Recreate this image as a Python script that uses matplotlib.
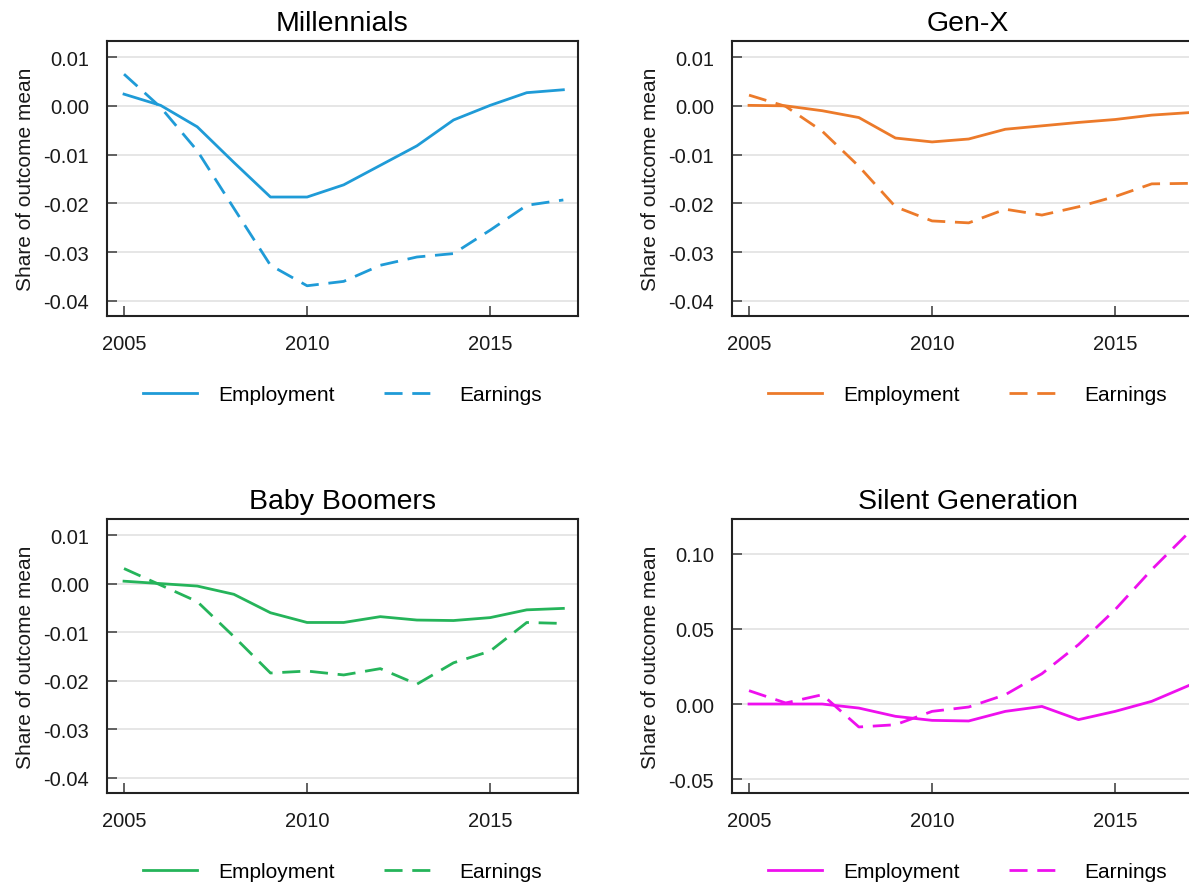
import matplotlib.pyplot as plt
import matplotlib.transforms as mtransforms

plt.rcParams['font.family'] = ['Liberation Sans', 'DejaVu Sans']

years = list(range(2005, 2018))

mill_emp = [0.0024, 0.0001, -0.0043, -0.0116, -0.0187, -0.0187, -0.0162,
            -0.0122, -0.0082, -0.0029, 0.0001, 0.0027, 0.0033]
mill_earn = [0.0065, -0.0003, -0.0092, -0.0210, -0.0327, -0.0369, -0.0360,
             -0.0327, -0.0310, -0.0303, -0.0255, -0.0204, -0.0193]

genx_emp = [0.0001, 0.0000, -0.0010, -0.0024, -0.0066, -0.0074, -0.0068,
            -0.0048, -0.0041, -0.0034, -0.0028, -0.0019, -0.0014]
genx_earn = [0.0022, -0.0001, -0.0052, -0.0124, -0.0207, -0.0236, -0.0240,
             -0.0212, -0.0224, -0.0207, -0.0186, -0.0160, -0.0159]

boom_emp = [0.0005, 0.0000, -0.0005, -0.0022, -0.0060, -0.0080, -0.0080,
            -0.0068, -0.0075, -0.0076, -0.0070, -0.0054, -0.0051]
boom_earn = [0.0031, -0.0003, -0.0037, -0.0109, -0.0184, -0.0180, -0.0188,
             -0.0175, -0.0207, -0.0163, -0.0139, -0.0080, -0.0082]

silent_emp = [0.0000, 0.0000, 0.0000, -0.0027, -0.0082, -0.0109, -0.0113,
              -0.0049, -0.0016, -0.0104, -0.0049, 0.0018, 0.0122]
silent_earn = [0.0089, 0.0007, 0.0062, -0.0153, -0.0138, -0.0049, -0.0020,
               0.0062, 0.0202, 0.0396, 0.0629, 0.0896, 0.1140]

titles = ['Millennials', 'Gen-X', 'Baby Boomers', 'Silent Generation']
colors = ['#1f9bd7', '#ec7a2a', '#25b45a', '#ee10ee']

small_ticks = [0.01, 0.0, -0.01, -0.02, -0.03, -0.04]
small_labels = ['0.01', '0.00', '-0.01', '-0.02', '-0.03', '-0.04']
silent_ticks = [0.10, 0.05, 0.0, -0.05]
silent_labels = ['0.10', '0.05', '0.00', '-0.05']

W, H = 1189, 887
fig = plt.figure(figsize=(W / 100, H / 100), dpi=100)

# panel boxes in pixels: left, top, right, bottom
boxes = [(107, 42, 578, 317), (732, 42, 1203, 317),
         (107, 520, 578, 794), (732, 520, 1203, 794)]
legend_y = [396, 396, 873, 873]

panels = [(mill_emp, mill_earn), (genx_emp, genx_earn),
          (boom_emp, boom_earn), (silent_emp, silent_earn)]

for i, (emp, earn) in enumerate(panels):
    l, t, r, b = boxes[i]
    ax = fig.add_axes([l / W, (H - b) / H, (r - l) / W, (b - t) / H])
    ax.plot(years, emp, color=colors[i], lw=2.0, label='Employment')
    ax.plot(years, earn, color=colors[i], lw=2.0, dashes=(6.5, 3.5), label='Earnings')

    ax.set_xlim(2004.535, 2017.40)
    ax.set_xticks([2005, 2010, 2015])
    if i == 3:
        ax.set_ylim(-0.0593, 0.1233)
        ax.set_yticks(silent_ticks)
        ax.set_yticklabels(silent_labels)
    else:
        ax.set_ylim(-0.0431, 0.0133)
        ax.set_yticks(small_ticks)
        ax.set_yticklabels(small_labels)

    ax.grid(axis='y', color='#e4e4e4', lw=1.3)
    ax.set_axisbelow(True)
    ax.tick_params(direction='in', length=7, width=1.3, color='#555555',
                   labelsize=14.5, pad=13, labelcolor='#1a1a1a')
    for s in ax.spines.values():
        s.set_linewidth(1.5)
        s.set_color('#222222')

    ax.set_ylabel('Share of outcome mean', fontsize=15, labelpad=6, color='#1a1a1a')
    ax.set_title(titles[i], fontsize=20.5, pad=8)

    trans = mtransforms.blended_transform_factory(ax.transAxes, fig.transFigure)
    ax.legend(loc='center', bbox_to_anchor=(0.5, (H - legend_y[i]) / H),
              bbox_transform=trans, ncol=2, frameon=False, fontsize=15,
              handlelength=2.6, handletextpad=1.0, columnspacing=2.4)

fig.savefig('out.png', dpi=100)
